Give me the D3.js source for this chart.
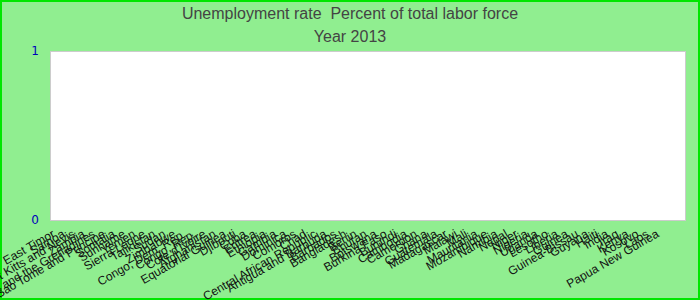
<!DOCTYPE html>
<html>
<head>
<meta charset="utf-8">
<script src="https://cdnjs.cloudflare.com/ajax/libs/d3/7.8.5/d3.min.js"></script>
<style>
body { margin: 0; }
svg { display: block; font-family: "Liberation Sans", Arial, sans-serif; }
.title { white-space: pre; }
</style>
</head>
<body>
<script>
// countries with no 2013 value, in the order they appear on the axis
var countries = ["East Timor", "Samoa", "Saint Kitts and Nevis", "Zambia",
  "Saint Vincent and the Grenadines", "Sao Tome and Principe", "Somalia", "Suriname",
  "Yemen", "Sierra Leone", "Tajikistan", "Sudan", "Zimbabwe", "Congo, Dem. Rep.",
  "Congo, Rep.", "Cote d'Ivoire", "Afghanistan", "Equatorial Guinea", "Djibouti",
  "Cuba", "Eritrea", "Ethiopia", "Gambia", "Dominica", "Comoros", "Chad",
  "Central African Republic", "Antigua and Barbuda", "Barbados", "Bangladesh",
  "Benin", "Bhutan", "Botswana", "Burkina Faso", "Burundi", "Cambodia", "Cameroon",
  "Ghana", "Guatemala", "Madagascar", "Malawi", "Mali", "Mauritania", "Mozambique",
  "Namibia", "Nepal", "Niger", "Nigeria", "Uganda", "Lesotho", "Liberia", "Guinea",
  "Guinea-Bissau", "Guyana", "Haiti", "India", "Iraq", "Kenya", "Kosovo", "Laos",
  "Papua New Guinea"];
var yTicks = [0, 1];
var titleLines = ["Unemployment rate  Percent of total labor force", "Year 2013"];

var width = 700, height = 300;
var plotLeft = 50, plotRight = 685, plotTop = 51, plotBottom = 220;

var svg = d3.select("body").append("svg")
    .attr("width", width)
    .attr("height", height);

svg.append("rect")
    .attr("x", 1).attr("y", 1)
    .attr("width", width - 2).attr("height", height - 2)
    .attr("fill", "#90ee90")
    .attr("stroke", "#00e600")
    .attr("stroke-width", 2);

svg.append("rect")
    .attr("x", plotLeft + 0.5).attr("y", plotTop + 0.5)
    .attr("width", plotRight - plotLeft).attr("height", plotBottom - plotTop)
    .attr("fill", "#fff")
    .attr("stroke", "#cccccc");

svg.selectAll(".title")
    .data(titleLines)
  .enter().append("text")
    .attr("class", "title")
    .attr("x", width / 2)
    .attr("y", function(d, i) { return 19 + i * 23; })
    .attr("text-anchor", "middle")
    .attr("font-size", 16)
    .attr("fill", "#444")
    .text(function(d) { return d; });

var y = d3.scaleLinear().domain([0, 1]).range([plotBottom, plotTop]);

svg.append("g")
    .attr("transform", "translate(" + (plotLeft - 11) + ",0)")
    .call(d3.axisLeft(y).tickValues(yTicks).tickSize(0).tickPadding(0).tickFormat(d3.format("d")))
    .call(function(g) { g.select(".domain").remove(); })
    .selectAll("text")
    .attr("font-family", "DejaVu Sans, sans-serif")
    .attr("font-size", 12)
    .attr("fill", "#0000bb");

var x = d3.scalePoint().domain(countries).range([plotLeft + 1, plotRight - 30]);

svg.append("g")
    .attr("transform", "translate(0," + (plotBottom + 9) + ")")
    .call(d3.axisBottom(x).tickSize(0).tickPadding(0))
    .call(function(g) { g.select(".domain").remove(); })
    .selectAll("text")
    .attr("font-family", "Liberation Sans, Arial, sans-serif")
    .attr("font-size", 12)
    .attr("fill", "#111")
    .attr("text-anchor", "end")
    .attr("y", 0)
    .attr("dy", "0.7em")
    .attr("transform", "rotate(-30)");
</script>
</body>
</html>
